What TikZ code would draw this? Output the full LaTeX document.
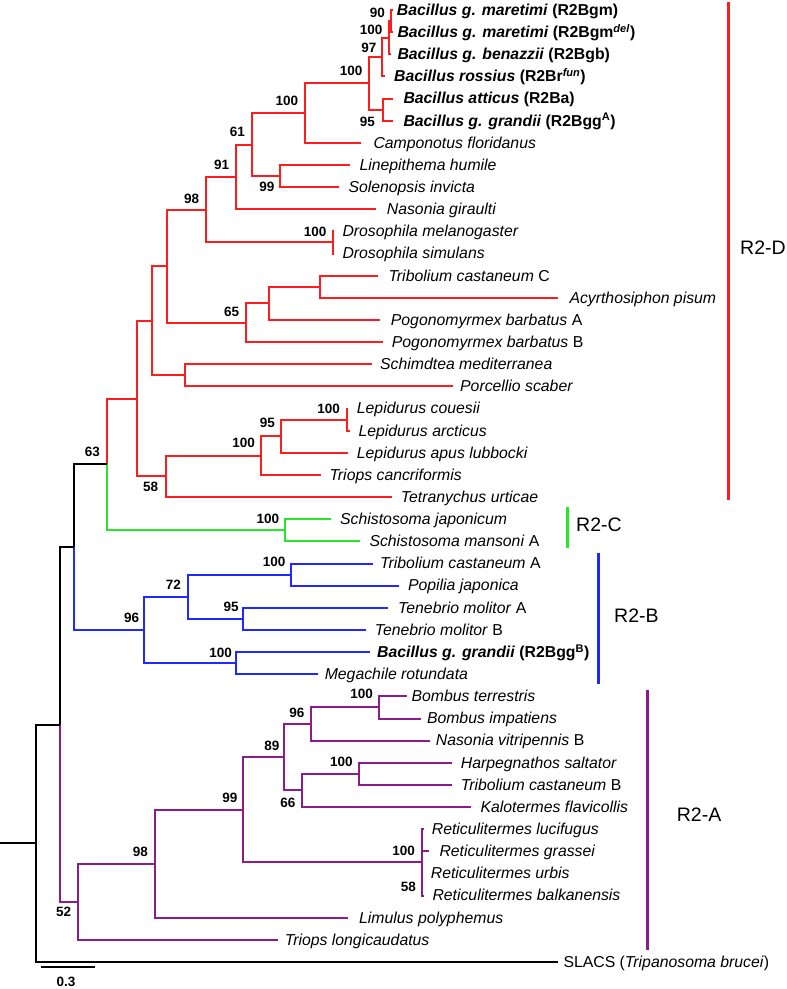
\documentclass[tikz,border=0pt]{standalone}
\usepackage{fontspec}
\setmainfont{Liberation Sans}
\definecolor{cR}{RGB}{255,28,28}
\definecolor{cG}{RGB}{40,230,40}
\definecolor{cB}{RGB}{30,40,255}
\definecolor{cP}{RGB}{140,28,140}
\begin{document}
\begin{tikzpicture}[x=1pt,y=-1pt,
  br/.style={line width=2pt},
  tx/.style={anchor=base west,inner sep=0pt,font=\fontsize{15.8}{18}\selectfont},
  bs/.style={anchor=east,inner sep=0pt,font=\fontsize{13.5}{16}\selectfont\bfseries},
  cl/.style={anchor=west,inner sep=0pt,font=\fontsize{19.5}{22}\selectfont},
  bar/.style={line width=3pt}]
\useasboundingbox (0,0) rectangle (787,989);
% ---------- tips ----------
\coordinate (t1) at (392.5,10.0);
\coordinate (t2) at (392.5,32.1);
\coordinate (t3) at (390.5,54.3);
\coordinate (t4) at (385,76.4);
\coordinate (t5) at (393.3,98.6);
\coordinate (t6) at (393.3,120.7);
\coordinate (t7) at (361,142.8);
\coordinate (t8) at (350,165.0);
\coordinate (t9) at (339.3,187.1);
\coordinate (t10) at (376,209.3);
\coordinate (t11) at (334,231.4);
\coordinate (t12) at (334,253.5);
\coordinate (t13) at (378.3,275.7);
\coordinate (t14) at (558.3,297.8);
\coordinate (t15) at (380,320.0);
\coordinate (t16) at (382.7,342.1);
\coordinate (t17) at (371.7,364.2);
\coordinate (t18) at (453.3,386.4);
\coordinate (t19) at (348,408.5);
\coordinate (t20) at (349.5,430.7);
\coordinate (t21) at (348.3,452.8);
\coordinate (t22) at (320.7,474.9);
\coordinate (t23) at (392.3,497.1);
\coordinate (t24) at (331,519.2);
\coordinate (t25) at (360.4,541.4);
\coordinate (t26) at (373.2,563.5);
\coordinate (t27) at (399,585.6);
\coordinate (t28) at (388.2,607.8);
\coordinate (t29) at (365.7,629.9);
\coordinate (t30) at (370.4,652.1);
\coordinate (t31) at (317.9,674.2);
\coordinate (t32) at (407.1,696.3);
\coordinate (t33) at (421.4,718.5);
\coordinate (t34) at (430.4,740.6);
\coordinate (t35) at (451.8,762.8);
\coordinate (t36) at (451.8,784.9);
\coordinate (t37) at (471.4,807.0);
\coordinate (t38) at (424,829.2);
\coordinate (t39) at (429.3,851.3);
\coordinate (t40) at (422.8,873.5);
\coordinate (t41) at (424,895.6);
\coordinate (t42) at (348.2,917.7);
\coordinate (t43) at (277.9,939.9);
\coordinate (t44) at (558.3,962.0);
% ---------- internal nodes ----------
\coordinate (n90) at (391,21.05);
\coordinate (n100m) at (389.3,37.7);
\coordinate (n97) at (381.7,57.05);
\coordinate (n95) at (382.7,109.65);
\coordinate (n100b) at (369,83.35);
\coordinate (n100c) at (305,113.1);
\coordinate (n99) at (280,176.05);
\coordinate (n61) at (251.7,144.6);
\coordinate (n91) at (236,176.95);
\coordinate (nDros) at (332.7,242.45);
\coordinate (n98) at (205.5,209.7);
\coordinate (nTC) at (320,286.75);
\coordinate (nPA) at (269.3,303.4);
\coordinate (n65) at (246,322.75);
\coordinate (nD1) at (166.7,266.2);
\coordinate (nSP) at (185,375.3);
\coordinate (nD2) at (152.3,320.75);
\coordinate (nLep) at (347,419.6);
\coordinate (n95L) at (281,436.2);
\coordinate (n100L) at (261,455.55);
\coordinate (n58) at (165.7,476.3);
\coordinate (nD3) at (136.7,398.5);
\coordinate (nC) at (285.4,530.3);
\coordinate (n63) at (106.9,464.4);
\coordinate (nB1) at (291,574.55);
\coordinate (nB2) at (242.9,618.85);
\coordinate (n72) at (188.2,596.7);
\coordinate (nB3) at (236.4,663.15);
\coordinate (n96B) at (143.6,629.9);
\coordinate (nX) at (73.9,547.15);
\coordinate (nBom) at (379.3,707.4);
\coordinate (n96A) at (311.4,723.95);
\coordinate (nHT) at (358.9,773.85);
\coordinate (n66) at (301.8,790.4);
\coordinate (n89) at (284,757.2);
\coordinate (nR58) at (422.3,884.55);
\coordinate (nR100) at (421.7,862.4);
\coordinate (n99A) at (242.9,809.8);
\coordinate (n98A) at (155.4,863.75);
\coordinate (n52) at (78.2,901.8);
\coordinate (nA) at (59.6,724.5);
\coordinate (root) at (35.7,843.25);
\coordinate (rootstub) at (0,843.25);
% ---------- branches ----------
\foreach \p/\c in {n90/t1,n90/t2,n100m/n90,n100m/t3,n97/n100m,n97/t4,n95/t5,n95/t6,
  n100b/n97,n100b/n95,n100c/n100b,n100c/t7,n99/t8,n99/t9,n61/n100c,n61/n99,
  n91/n61,n91/t10,nDros/t11,nDros/t12,n98/n91,n98/nDros,nTC/t13,nTC/t14,
  nPA/nTC,nPA/t15,n65/nPA,n65/t16,nD1/n98,nD1/n65,nSP/t17,nSP/t18,nD2/nD1,nD2/nSP,
  nLep/t19,nLep/t20,n95L/nLep,n95L/t21,n100L/n95L,n100L/t22,n58/n100L,n58/t23,
  nD3/nD2,nD3/n58,n63/nD3}
  \draw[br,cR] (\p) |- (\c);
\foreach \p/\c in {nC/t24,nC/t25,n63/nC}
  \draw[br,cG] (\p) |- (\c);
\foreach \p/\c in {nB1/t26,nB1/t27,nB2/t28,nB2/t29,n72/nB1,n72/nB2,nB3/t30,nB3/t31,
  n96B/n72,n96B/nB3,nX/n96B}
  \draw[br,cB] (\p) |- (\c);
\foreach \p/\c in {nBom/t32,nBom/t33,n96A/nBom,n96A/t34,nHT/t35,nHT/t36,n66/nHT,n66/t37,
  n89/n96A,n89/n66,nR100/t38,nR100/t39,nR100/nR58,nR58/t40,nR58/t41,n99A/n89,n99A/nR100,
  n98A/n99A,n98A/t42,n52/n98A,n52/t43,nA/n52}
  \draw[br,cP] (\p) |- (\c);
\foreach \p/\c in {nX/n63,nA/nX,root/nA,root/t44}
  \draw[br,black] (\p) |- (\c);
\draw[br,black] (rootstub) -- (root);
% ---------- taxon labels ----------
\node[tx] (L1) at (396.7,15.3) {\textbf{\textit{Bacillus g. maretimi}} \textbf{(R2Bgm)}};
\node[tx] (L2) at (397.3,37.4) {\textbf{\textit{Bacillus g. maretimi}} \textbf{(R2Bgm\textsuperscript{\textit{del}})}};
\node[tx] (L3) at (397.3,59.6) {\textbf{\textit{Bacillus g. benazzii}} \textbf{(R2Bgb)}};
\node[tx] (L4) at (394,81.7) {\textbf{\textit{Bacillus rossius}} \textbf{(R2Br\textsuperscript{\textit{fun}})}};
\node[tx] (L5) at (403.3,103.9) {\textbf{\textit{Bacillus atticus}} \textbf{(R2Ba)}};
\node[tx] (L6) at (403.3,126.0) {\textbf{\textit{Bacillus g. grandii}} \textbf{(R2Bgg\textsuperscript{A})}};
\node[tx] (L7) at (373.3,148.1) {\textit{Camponotus floridanus}};
\node[tx] (L8) at (359.3,170.3) {\textit{Linepithema humile}};
\node[tx] (L9) at (348.3,192.4) {\textit{Solenopsis invicta}};
\node[tx] (L10) at (386.7,214.6) {\textit{Nasonia giraulti}};
\node[tx] (L11) at (342.3,236.7) {\textit{Drosophila melanogaster}};
\node[tx] (L12) at (342.3,258.8) {\textit{Drosophila simulans}};
\node[tx] (L13) at (388.3,281.0) {\textit{Tribolium castaneum} C};
\node[tx] (L14) at (569.3,303.1) {\textit{Acyrthosiphon pisum}};
\node[tx] (L15) at (390.7,325.3) {\textit{Pogonomyrmex barbatus} A};
\node[tx] (L16) at (391.7,347.4) {\textit{Pogonomyrmex barbatus} B};
\node[tx] (L17) at (380,369.5) {\textit{Schimdtea mediterranea}};
\node[tx] (L18) at (460,391.7) {\textit{Porcellio scaber}};
\node[tx] (L19) at (356.7,413.8) {\textit{Lepidurus couesii}};
\node[tx] (L20) at (358.3,436.0) {\textit{Lepidurus arcticus}};
\node[tx] (L21) at (356.7,458.1) {\textit{Lepidurus apus lubbocki}};
\node[tx] (L22) at (329.3,480.2) {\textit{Triops cancriformis}};
\node[tx] (L23) at (400.7,502.4) {\textit{Tetranychus urticae}};
\node[tx] (L24) at (340,524.5) {\textit{Schistosoma japonicum}};
\node[tx] (L25) at (369.3,546.7) {\textit{Schistosoma mansoni} A};
\node[tx] (L26) at (380,568.8) {\textit{Tribolium castaneum} A};
\node[tx] (L27) at (407.9,590.9) {\textit{Popilia japonica}};
\node[tx] (L28) at (398,613.1) {\textit{Tenebrio molitor} A};
\node[tx] (L29) at (374.6,635.2) {\textit{Tenebrio molitor} B};
\node[tx] (L30) at (377,657.4) {\textbf{\textit{Bacillus g. grandii}} \textbf{(R2Bgg\textsuperscript{B})}};
\node[tx] (L31) at (324.6,679.5) {\textit{Megachile rotundata}};
\node[tx] (L32) at (411.4,701.6) {\textit{Bombus terrestris}};
\node[tx] (L33) at (426.8,723.8) {\textit{Bombus impatiens}};
\node[tx] (L34) at (435.7,745.9) {\textit{Nasonia vitripennis} B};
\node[tx] (L35) at (460.7,768.1) {\textit{Harpegnathos saltator}};
\node[tx] (L36) at (460.7,790.2) {\textit{Tribolium castaneum} B};
\node[tx] (L37) at (480.4,812.3) {\textit{Kalotermes flavicollis}};
\node[tx] (L38) at (431.7,834.5) {\textit{Reticulitermes lucifugus}};
\node[tx] (L39) at (439.3,856.6) {\textit{Reticulitermes grassei}};
\node[tx] (L40) at (430.7,878.8) {\textit{Reticulitermes urbis}};
\node[tx] (L41) at (432.3,900.9) {\textit{Reticulitermes balkanensis}};
\node[tx] (L42) at (359,923.0) {\textit{Limulus polyphemus}};
\node[tx] (L43) at (284.6,945.2) {\textit{Triops longicaudatus}};
\node[tx] (L44) at (563.3,967.3) {SLACS (\textit{Tripanosoma brucei})};
% ---------- bootstrap values ----------
\node[bs] (b1) at (385,12.5) {90};
\node[bs] (b2) at (382.7,30) {100};
\node[bs] (b3) at (376.7,47.7) {97};
\node[bs] (b4) at (362.7,71) {100};
\node[bs] (b5) at (375,121.7) {95};
\node[bs] (b6) at (298.3,100.7) {100};
\node[bs] (b7) at (245,131.7) {61};
\node[bs] (b8) at (274.6,186.7) {99};
\node[bs] (b9) at (229.3,164.7) {91};
\node[bs] (b10) at (199.3,199.3) {98};
\node[bs] (b11) at (326.7,231.7) {100};
\node[bs] (b12) at (239.3,311.7) {65};
\node[bs] (b13) at (340,409) {100};
\node[bs] (b14) at (275,423.3) {95};
\node[bs] (b15) at (255,442.7) {100};
\node[bs] (b16) at (158.3,487.3) {58};
\node[bs] (b17) at (100,451.7) {63};
\node[bs] (b18) at (279.3,519) {100};
\node[bs] (b19) at (285.7,562.3) {100};
\node[bs] (b20) at (181,584.3) {72};
\node[bs] (b21) at (238.9,606.7) {95};
\node[bs] (b22) at (139.3,617.7) {96};
\node[bs] (b23) at (232,653.3) {100};
\node[bs] (b24) at (373.2,694.3) {100};
\node[bs] (b25) at (304.6,713.3) {96};
\node[bs] (b26) at (279.6,745.7) {89};
\node[bs] (b27) at (352.9,761.7) {100};
\node[bs] (b28) at (295.7,802.7) {66};
\node[bs] (b29) at (237.5,798.3) {99};
\node[bs] (b30) at (415,850.7) {100};
\node[bs] (b31) at (416,887.3) {58};
\node[bs] (b32) at (148.2,851.7) {98};
\node[bs] (b33) at (71.4,912.3) {52};
% ---------- clade bars ----------
\coordinate (dT) at (728.3,2);   \coordinate (dB) at (728.3,500);
\coordinate (cT) at (567.7,507); \coordinate (cB) at (567.7,548);
\coordinate (bT) at (598.3,553); \coordinate (bB) at (598.3,684);
\coordinate (aT) at (647.7,690); \coordinate (aB) at (647.7,950);
\draw[bar,cR] (dT) -- (dB);
\draw[bar,cG] (cT) -- (cB);
\draw[bar,cB] (bT) -- (bB);
\draw[bar,cP] (aT) -- (aB);
\node[cl] (D) at (740,248) {R2-D};
\node[cl] (C) at (576,525) {R2-C};
\node[cl] (B) at (614,616) {R2-B};
\node[cl] (A) at (676.7,815) {R2-A};
% ---------- scale bar ----------
\coordinate (s1) at (41,967); \coordinate (s2) at (94.6,967);
\draw[br,black] (s1) -- (s2);
\node[inner sep=0pt,font=\fontsize{13.5}{16}\selectfont\bfseries] (sl) at (66,981.7) {0.3};
\end{tikzpicture}
\end{document}
